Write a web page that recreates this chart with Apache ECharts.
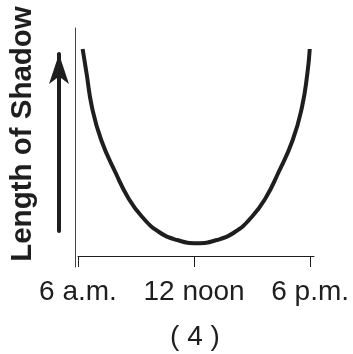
<!DOCTYPE html>
<html>
<head>
<meta charset="utf-8">
<script src="https://cdn.jsdelivr.net/npm/echarts@6/dist/echarts.min.js"></script>
<style>
html,body{margin:0;padding:0;background:#fff;}
#c{width:353px;height:354px;}
</style>
</head>
<body>
<div id="c"></div>
<script>
// Hour of day (6 = 6 a.m., 12 = noon, 18 = 6 p.m.)
const hours = [6.24, 6.44, 6.72, 7.20, 7.95, 8.60, 9.32, 10.19, 11.12, 12.15,
               13.18, 14.11, 14.98, 15.70, 16.35, 17.10, 17.58, 17.86, 17.98];
// Relative length of shadow (arbitrary units)
const shadowLength = [20.7, 18.3, 14.9, 11.6, 8.3, 5.8, 3.9, 2.4, 1.6, 1.27,
                      1.6, 2.4, 3.9, 5.8, 8.3, 11.6, 14.9, 18.3, 20.7];
// Tick labels
const tickValues = [6, 12, 18];
const tickLabels = ['6 a.m.', '12 noon', '6 p.m.'];
const yTitle = 'Length of Shadow';
const caption = '( 4 )';

const font = '"Liberation Sans", Arial, Helvetica, sans-serif';
const ink = '#1e1e1e';

const chart = echarts.init(document.getElementById('c'), null, {renderer: 'canvas'});
chart.setOption({
  animation: false,
  backgroundColor: '#fff',
  title: {
    text: caption,
    left: 195,
    textAlign: 'center',
    top: 323,
    padding: 0,
    textStyle: {fontFamily: font, fontSize: 28, fontWeight: 'normal', color: ink}
  },
  grid: [
    {left: 77, right: 39, top: 28, bottom: 87, containLabel: false},
    {left: 59, width: 10, top: 54, bottom: 123, containLabel: false}
  ],
  xAxis: [
    {
      gridIndex: 0, type: 'value', min: 6, max: 18.2,
      axisLine: {show: true, onZero: true, lineStyle: {color: ink, width: 1}},
      axisTick: {show: true, customValues: tickValues, length: 11, inside: false,
                 lineStyle: {color: ink, width: 1}},
      axisLabel: {show: true, customValues: tickValues, margin: 11,
                  fontFamily: font, fontSize: 28, color: ink,
                  formatter: function (v) {
                    const i = tickValues.indexOf(Math.round(v));
                    return i >= 0 ? tickLabels[i] : '';
                  }},
      splitLine: {show: false}
    },
    {
      gridIndex: 1, type: 'value', min: 0, max: 1, show: false
    }
  ],
  yAxis: [
    {
      gridIndex: 0, type: 'value', min: -1.1, max: 22.8, offset: 3,
      axisLine: {show: true, onZero: false, lineStyle: {color: '#444', width: 1}},
      axisTick: {show: false},
      axisLabel: {show: false},
      splitLine: {show: false},
      name: yTitle,
      nameLocation: 'middle',
      nameRotate: 90,
      nameGap: 37,
      nameTextStyle: {fontFamily: font, fontSize: 29.5, fontWeight: 'bold', color: ink,
                      padding: [0, 0, 0, 27]}
    },
    {
      gridIndex: 1, type: 'value', min: 0, max: 1,
      axisLine: {show: true, onZero: false, symbol: ['none', 'arrow'], symbolSize: [15, 30],
                 lineStyle: {color: ink, width: 4}},
      axisTick: {show: false},
      axisLabel: {show: false},
      splitLine: {show: false}
    }
  ],
  series: [
    {
      type: 'line',
      xAxisIndex: 0, yAxisIndex: 0,
      data: hours.map((h, i) => [h, shadowLength[i]]),
      smooth: 0.5,
      showSymbol: false,
      symbol: 'none',
      lineStyle: {color: ink, width: 4}
    }
  ]
});
</script>
</body>
</html>
